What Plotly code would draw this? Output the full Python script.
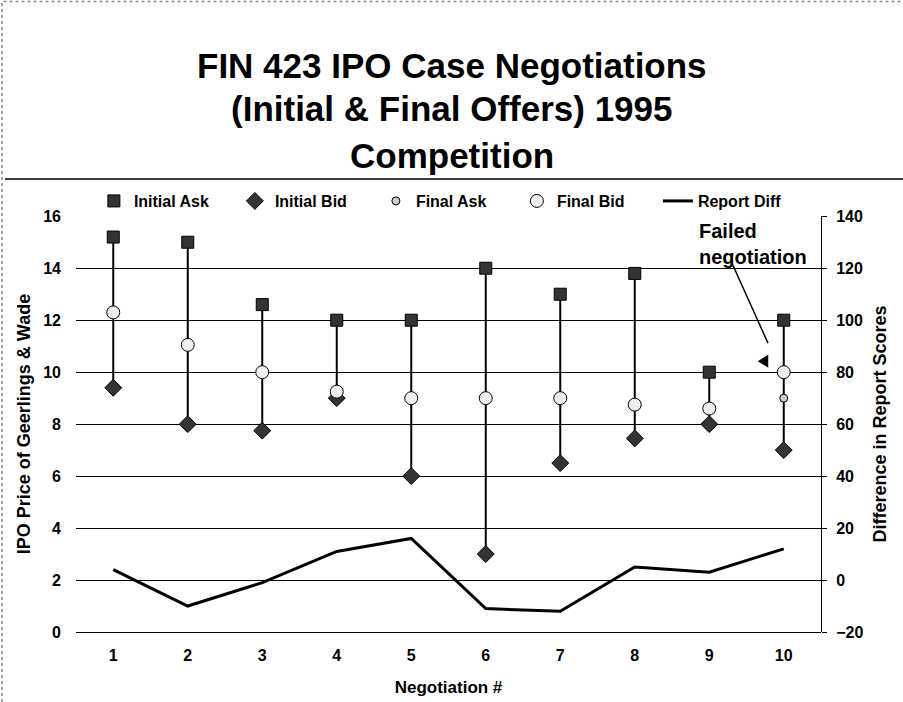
import plotly.graph_objects as go

negotiations = [1, 2, 3, 4, 5, 6, 7, 8, 9, 10]
initial_ask = [15.2, 15.0, 12.6, 12.0, 12.0, 14.0, 13.0, 13.8, 10.0, 12.0]
initial_bid = [9.4, 8.0, 7.75, 9.0, 6.0, 3.0, 6.5, 7.45, 8.0, 7.0]
final_ask = [12.3, 11.05, 10.0, 9.25, 9.0, 9.0, 9.0, 8.75, 8.6, 9.0]
final_bid = [12.3, 11.05, 10.0, 9.25, 9.0, 9.0, 9.0, 8.75, 8.6, 10.0]
report_diff = [4, -10, -1, 11, 16, -11, -12, 5, 3, 12]

FONT = "Liberation Sans, Arial, sans-serif"
BLACK = "#000000"

spread = [a - b for a, b in zip(initial_ask, initial_bid)]

fig = go.Figure()
fig.add_trace(go.Scatter(
    x=negotiations, y=initial_ask, name="Initial Ask", mode="markers",
    marker=dict(symbol="square", size=12, color="#333333", line=dict(color=BLACK, width=1)),
    error_y=dict(type="data", symmetric=False, array=[0] * len(spread), arrayminus=spread,
                 width=0, thickness=2, color=BLACK),
))
fig.add_trace(go.Scatter(
    x=negotiations, y=initial_bid, name="Initial Bid", mode="markers",
    marker=dict(symbol="diamond", size=13, color="#333333", line=dict(color=BLACK, width=1)),
))
fig.add_trace(go.Scatter(
    x=negotiations, y=final_ask, name="Final Ask", mode="markers",
    marker=dict(symbol="circle", size=8, color="#cccccc", line=dict(color=BLACK, width=1)),
))
fig.add_trace(go.Scatter(
    x=negotiations, y=final_bid, name="Final Bid", mode="markers",
    marker=dict(symbol="circle", size=13, color="#eeeeee", line=dict(color=BLACK, width=1)),
))
fig.add_trace(go.Scatter(
    x=negotiations, y=report_diff, name="Report Diff", mode="lines", yaxis="y2",
    line=dict(color=BLACK, width=3),
))

tick_font = dict(family=FONT, size=16, color=BLACK, weight="bold")
title_font = dict(family=FONT, size=18, color=BLACK, weight="bold")

fig.update_layout(
    width=903, height=702,
    margin=dict(l=76, r=82, t=216, b=70, autoexpand=False),
    paper_bgcolor="white", plot_bgcolor="white",
    font=dict(family=FONT, color=BLACK),
    showlegend=True,
    legend=dict(orientation="h", x=0.024, y=1.036, xanchor="left", yanchor="middle",
                font=dict(family=FONT, size=16, color=BLACK, weight="bold"),
                entrywidth=96, itemwidth=30, bgcolor="rgba(0,0,0,0)",
                tracegroupgap=0),
    xaxis=dict(range=[0.5, 10.5], tickvals=negotiations, showgrid=False, zeroline=False,
               showline=False, ticks="", tickfont=tick_font, ticklabelstandoff=12,
               title=dict(text="Negotiation #", font=dict(family=FONT, size=17, color=BLACK, weight="bold"),
                          standoff=18)),
    yaxis=dict(range=[0, 16.01], dtick=2, showgrid=True, gridcolor=BLACK, gridwidth=1,
               zeroline=True, zerolinecolor=BLACK, zerolinewidth=1,
               showline=False, ticks="", tickfont=tick_font, ticklabelstandoff=14,
               title=dict(text="IPO Price of Geerlings & Wade", font=title_font, standoff=7)),
    yaxis2=dict(range=[-20, 140.1], dtick=20, overlaying="y", side="right", showgrid=False,
                zeroline=False, showline=True, linecolor=BLACK, linewidth=1,
                ticks="outside", ticklen=5, tickcolor=BLACK, tickfont=tick_font, ticklabelstandoff=6,
                title=dict(text="Difference in Report Scores", font=title_font, standoff=10)),
)

title_lines = ["FIN 423 IPO Case Negotiations", "(Initial & Final Offers) 1995", "Competition"]
title_px = [65, 109, 155]
for txt, ypx in zip(title_lines, title_px):
    fig.add_annotation(text=txt, xref="paper", yref="paper",
                       x=(451.5 - 76) / 745, y=(632 - ypx) / 416,
                       xanchor="center", yanchor="middle", showarrow=False,
                       font=dict(family=FONT, size=35, color=BLACK, weight="bold"))

# title separator line and outer dotted frame
fig.add_shape(type="line", xref="paper", yref="paper",
              x0=(5 - 76) / 745, x1=(910 - 76) / 745, y0=(632 - 179) / 416, y1=(632 - 179) / 416,
              line=dict(color=BLACK, width=1.5))
fig.add_shape(type="rect", xref="paper", yref="paper",
              x0=(2 - 76) / 745, x1=(920 - 76) / 745, y0=(632 - 720) / 416, y1=(632 - 1.5) / 416,
              line=dict(color="#888888", width=1.5, dash="dot"))

# "Failed negotiation" callout
fig.add_annotation(text="Failed<br>negotiation", xref="paper", yref="paper",
                   x=(697 - 76) / 745, y=(632 - 244) / 416, xanchor="left", yanchor="middle",
                   showarrow=False, align="left",
                   font=dict(family=FONT, size=20, color=BLACK, weight="bold"))
fig.add_shape(type="line", xref="x", yref="y",
              x0=0.5 + (732 - 76) / 74.5, y0=(632 - 263) / 26,
              x1=0.5 + (768 - 76) / 74.5, y1=(632 - 343) / 26,
              line=dict(color=BLACK, width=1.5))
tx = 0.5 + (763 - 76) / 74.5
ty = (632 - 361) / 26
fig.add_shape(type="path", xref="x", yref="y",
              path=f"M {tx - 0.07} {ty} L {tx + 0.07} {ty + 0.25} L {tx + 0.07} {ty - 0.25} Z",
              fillcolor=BLACK, line=dict(color=BLACK, width=0))

fig.write_html("out.html", config={"displayModeBar": False},
               post_script="document.body.style.margin='0px';")
